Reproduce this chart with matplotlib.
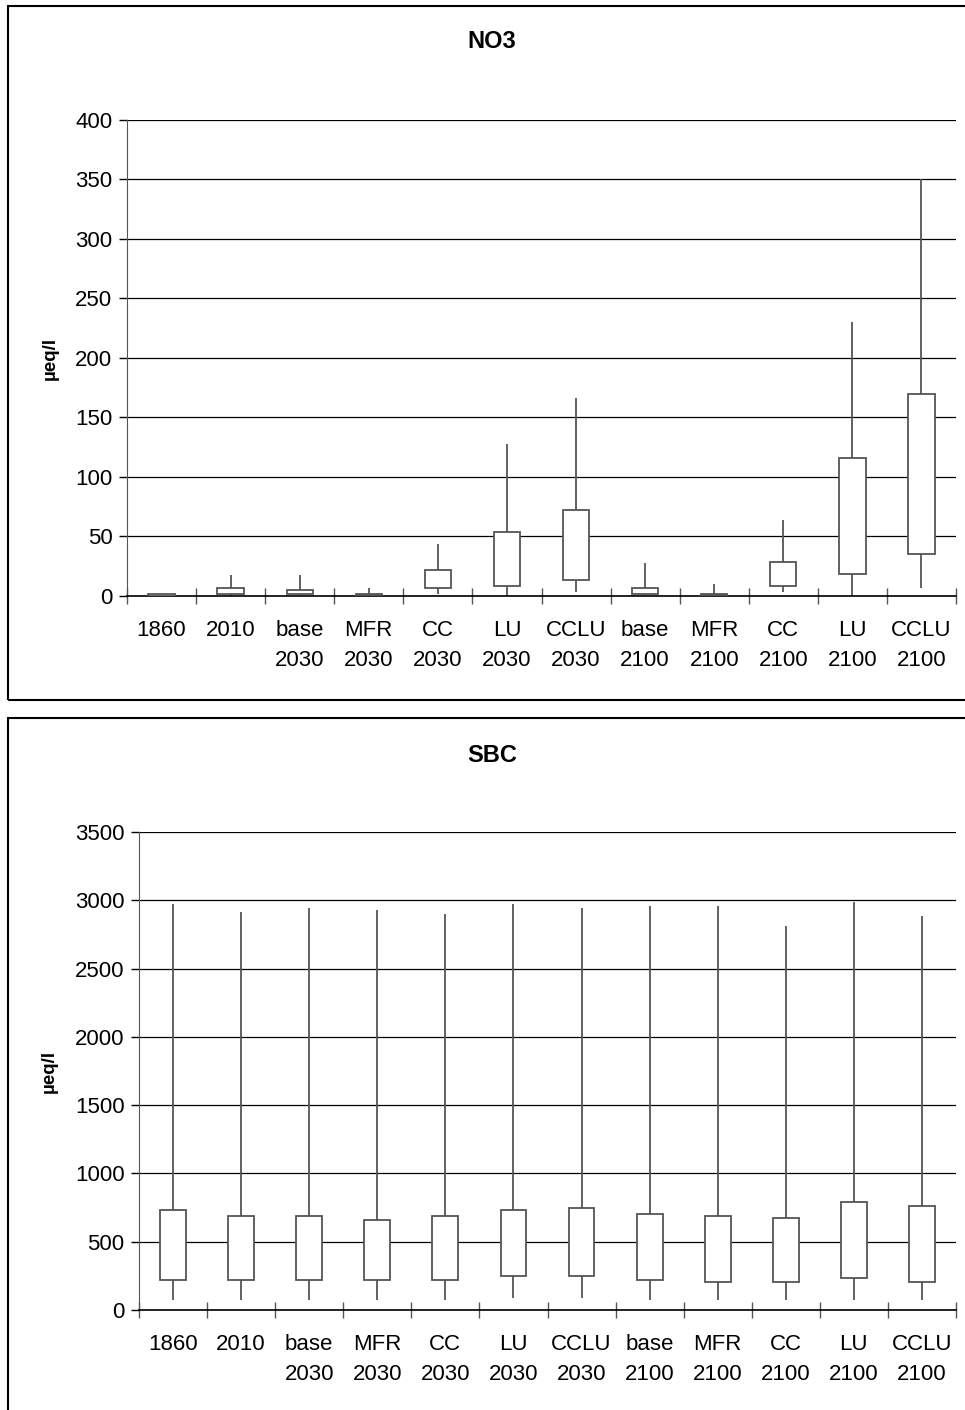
import numpy as np
import matplotlib.pyplot as plt
from matplotlib.patches import Rectangle

plt.rcParams['font.family'] = ['Liberation Sans', 'DejaVu Sans']

labels = ['1860', '2010', 'base\n2030', 'MFR\n2030', 'CC\n2030', 'LU\n2030', 'CCLU\n2030',
          'base\n2100', 'MFR\n2100', 'CC\n2100', 'LU\n2100', 'CCLU\n2100']

# NO3 (µeq/l): min, lower quartile, upper quartile, max
no3_min = [0.0, 0.0, 0.5, 0.5, 1.4, 0.0, 3.0, 0.5, 0.3, 3.0, 0.0, 6.4]
no3_q1 = [0.3, 1.4, 1.4, 1.2, 6.4, 8.2, 13.4, 1.4, 0.8, 8.2, 18.2, 35.3]
no3_q3 = [1.5, 6.4, 4.8, 2.0, 21.6, 53.8, 72.0, 6.4, 1.7, 28.3, 116.0, 170.0]
no3_max = [2.0, 18.0, 18.0, 6.4, 43.7, 128.0, 166.0, 28.0, 9.8, 64.0, 230.0, 350.0]

# SBC (µeq/l)
sbc_min = [71, 71, 71, 71, 71, 90, 90, 71, 71, 71, 71, 71]
sbc_q1 = [217, 217, 217, 217, 217, 247, 247, 217, 203, 203, 232, 203]
sbc_q3 = [730, 686, 686, 657, 686, 730, 745, 700, 686, 671, 789, 759]
sbc_max = [2973, 2914, 2943, 2929, 2900, 2973, 2943, 2958, 2958, 2812, 2987, 2885]

W, H = 965, 1410
fig = plt.figure(figsize=(W / 100, H / 100), dpi=100)

# outer frames around each chart
fig.add_artist(Rectangle((7.5 / W, 1 - 700 / H), 1.0, (700 - 6) / H, transform=fig.transFigure,
                         fill=False, edgecolor='black', linewidth=1.5))
fig.add_artist(Rectangle((7.5 / W, -0.05), 1.0, 0.05 + 1 - 718 / H, transform=fig.transFigure,
                         fill=False, edgecolor='black', linewidth=1.5))


def draw_panel(rect, title, title_y, lo, q1, q3, hi, ymax, ystep):
    ax = fig.add_axes(rect)
    x = np.arange(len(labels))
    ax.vlines(x, lo, q1, color='#555555', linewidth=1.3, zorder=2)
    ax.vlines(x, q3, hi, color='#555555', linewidth=1.3, zorder=2)
    ax.bar(x, np.array(q3) - np.array(q1), bottom=q1, width=0.38, facecolor='white',
           edgecolor='#555555', linewidth=1.3, zorder=3)
    ax.set_xlim(-0.5, len(labels) - 0.5)
    ax.set_ylim(0, ymax)
    ax.set_yticks(np.arange(0, ymax + 1, ystep))
    ax.yaxis.grid(True, color='black', linewidth=0.9)
    ax.set_axisbelow(True)
    ax.set_xticks(np.arange(-0.5, len(labels)), minor=False)
    ax.set_xticklabels([])
    ax.set_xticks(x, minor=True)
    ax.set_xticklabels(labels, minor=True, fontsize=16, linespacing=1.6)
    ax.tick_params(axis='x', which='major', direction='inout', length=11, width=1, color='#555555')
    ax.tick_params(axis='x', which='minor', length=0, pad=17)
    ax.tick_params(axis='y', direction='out', length=6, width=1, labelsize=16, pad=4.5)
    for s in ['top', 'right']:
        ax.spines[s].set_visible(False)
    ax.spines['left'].set_color('#555555')
    ax.spines['bottom'].set_linewidth(1.2)
    ax.set_ylabel('µeq/l', fontsize=13.5, fontweight='bold', labelpad=12)
    fig.text(492 / W, title_y, title, ha='center', va='center', fontsize=17, fontweight='bold')
    return ax


draw_panel([127 / W, 1 - 596 / H, (956 - 127) / W, (596 - 120) / H], 'NO3', 1 - 42 / H,
           no3_min, no3_q1, no3_q3, no3_max, 400, 50)
draw_panel([139 / W, 1 - 1310 / H, (956 - 139) / W, (1310 - 832) / H], 'SBC', 1 - 755 / H,
           sbc_min, sbc_q1, sbc_q3, sbc_max, 3500, 500)

fig.savefig('out.png', dpi=100)
